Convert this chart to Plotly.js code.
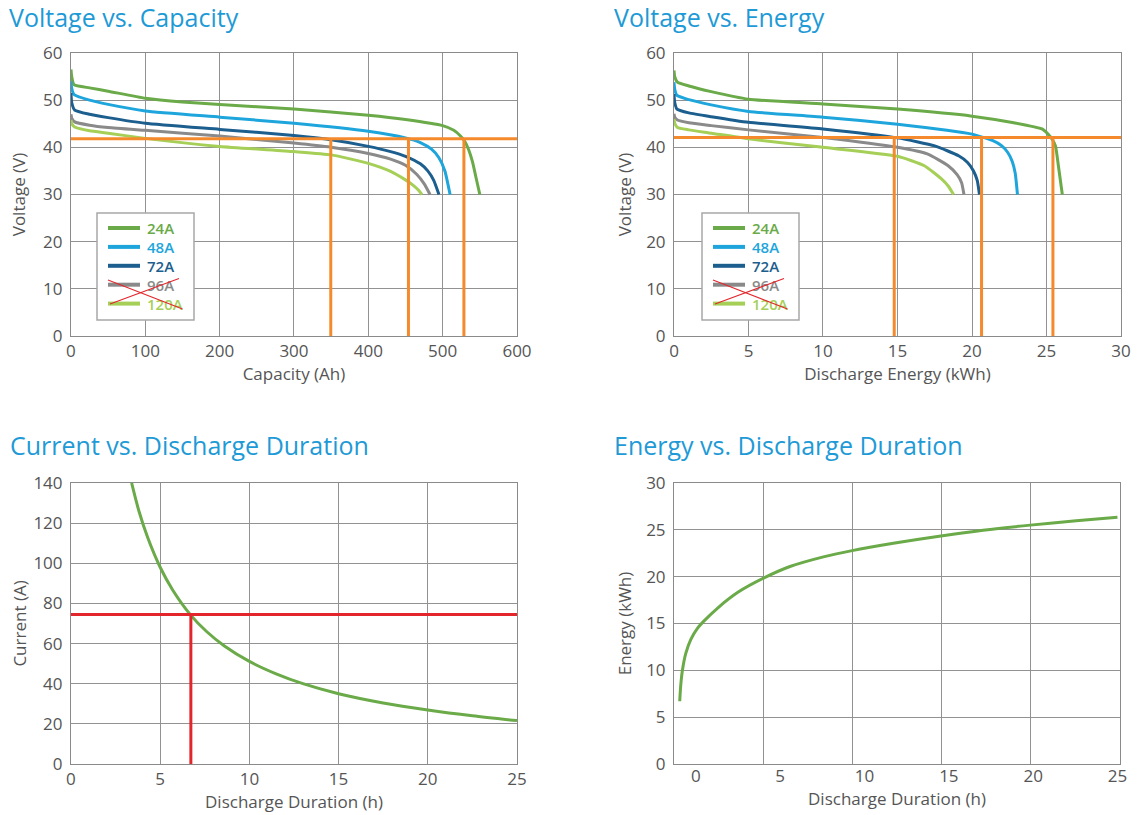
<!DOCTYPE html>
<html>
<head>
<meta charset="utf-8">
<script src="https://cdn.plot.ly/plotly-3.0.1.min.js"></script>
<style>html,body{margin:0;padding:0;background:#fff;}#chart{width:1141px;height:815px;}</style>
</head>
<body>
<div id="chart"></div>
<script>
// ---------- DATA ----------
const seriesNames = ['24A', '48A', '72A', '96A', '120A'];
const seriesColors = ['#6aaa48', '#1ea5dc', '#1c5e8e', '#8a8a8a', '#a5cf57'];
const crossedOut = ['96A', '120A'];

// Voltage vs. Capacity
const cap24 = [0, 1, 4, 25, 50, 100, 150, 200, 300, 400, 450, 500, 515, 524, 530, 535, 540, 545, 550];
const vCap24 = [56.5, 55, 53.3, 52.6, 51.9, 50.4, 49.6, 49.1, 48.1, 46.8, 45.9, 44.6, 43.6, 42.4, 41.2, 39.5, 37, 33.5, 30];
const cap48 = [0, 1, 4, 25, 50, 100, 200, 300, 400, 450, 470, 485, 495, 503, 510];
const vCap48 = [54, 52.5, 51.2, 50.0, 49.1, 47.7, 46.4, 45.1, 43.4, 42.0, 41.0, 39.6, 37.8, 35.0, 30];
const cap72 = [0, 1, 5, 25, 50, 100, 200, 300, 350, 400, 430, 450, 470, 480, 488, 495];
const vCap72 = [51.5, 49.5, 47.9, 47.0, 46.3, 45.1, 43.8, 42.5, 41.6, 40.2, 39.1, 38.1, 36.5, 35.0, 33.0, 30];
const cap96 = [0, 1, 5, 25, 50, 100, 200, 300, 350, 400, 430, 450, 465, 475, 483];
const vCap96 = [47, 46.2, 45.4, 44.7, 44.2, 43.6, 42.4, 40.9, 40.0, 38.7, 37.5, 36.2, 34.3, 32.3, 30];
const cap120 = [0, 1, 5, 25, 50, 100, 200, 300, 350, 400, 430, 450, 460, 467, 472];
const vCap120 = [45.8, 45.0, 44.3, 43.5, 43.0, 41.9, 40.2, 39.1, 38.4, 36.6, 34.9, 33.1, 32.0, 31.0, 30];
const capCutoffV = 41.8;
const capMarks = [349.5, 454, 528.6];

// Voltage vs. Energy
const en24 = [0, 0.05, 0.23, 1, 2.5, 5, 10, 15, 20, 22.8, 24.7, 25.1, 25.4, 25.6, 25.8, 26.06];
const vEn24 = [56.3, 55, 53.8, 53.0, 51.8, 50.2, 49.2, 48.1, 46.6, 45.2, 43.9, 42.8, 41.6, 40.3, 36, 30];
const en48 = [0, 0.05, 0.2, 1, 2.5, 5, 10, 15, 20, 21.4, 22.0, 22.4, 22.7, 22.9, 23.05];
const vEn48 = [53.8, 52.3, 51.0, 50.1, 49.0, 47.6, 46.4, 44.9, 42.8, 41.4, 40.3, 38.9, 37, 34.5, 30];
const en72 = [0, 0.05, 0.2, 1, 2.5, 5, 10, 15, 17.5, 19.1, 19.7, 20.1, 20.35, 20.5];
const vEn72 = [51.3, 49.5, 48.1, 47.3, 46.5, 45.3, 43.9, 42.0, 40.3, 38.2, 36.8, 35, 33, 30];
const en96 = [0, 0.05, 0.23, 1, 2.5, 5, 10, 15, 17.0, 18.4, 19.0, 19.3, 19.46];
const vEn96 = [47.1, 46.4, 45.8, 45.2, 44.6, 43.7, 42.1, 40.0, 38.6, 36.1, 34.2, 32.5, 30];
const en120 = [0, 0.05, 0.23, 1, 2.5, 5, 10, 15, 16.8, 17.95, 18.4, 18.76];
const vEn120 = [46.0, 45.1, 44.2, 43.7, 43.0, 41.8, 40.0, 38.1, 36.1, 33.3, 31.8, 30];
const enCutoffV = 42.1;
const enMarks = [14.78, 20.64, 25.43];

// Current vs. Discharge Duration
const durCurrent = [3.4, 3.8, 4.3, 5.0, 5.7, 6.7, 7.6, 8.6, 10.0, 11.5, 13.0, 15.0, 17.5, 20.0, 22.5, 25.0];
const current = [140, 126.3, 112.8, 98, 86.7, 74.3, 66, 58.8, 51.1, 44.9, 40, 35, 30.4, 26.9, 24, 21.6];
const markCurrent = 74.5;
const markDuration = 6.72;

// Energy vs. Discharge Duration
const durEnergy = [-0.96, -0.9, -0.8, -0.6, -0.3, 0.1, 0.5, 1.29, 2.51, 4.01, 5.58, 7.62, 9.26, 11.71, 14.53, 17.03, 19.83, 22.55, 25.0];
const energy = [6.7, 8.4, 10.0, 11.8, 13.3, 14.5, 15.3, 16.65, 18.35, 19.84, 21.08, 22.14, 22.78, 23.56, 24.34, 24.95, 25.5, 25.96, 26.35];

// ---------- STYLE ----------
const W = 1141, H = 815;
const FONT = 'Open Sans, Noto Sans, sans-serif';
const ORANGE = '#f58a2c';
const RED = '#e3262b';
const GREEN = '#6aaa48';
const TITLE_BLUE = '#1e9ad6';

const capX = [cap24, cap48, cap72, cap96, cap120];
const capY = [vCap24, vCap48, vCap72, vCap96, vCap120];
const enX = [en24, en48, en72, en96, en120];
const enY = [vEn24, vEn48, vEn72, vEn96, vEn120];

const traces = [];
seriesNames.forEach((n, i) => {
  traces.push({x: capX[i], y: capY[i], xaxis: 'x', yaxis: 'y', mode: 'lines', name: n, showlegend: false,
    line: {color: seriesColors[i], width: 3, shape: 'spline', smoothing: 0.5}, hoverinfo: 'skip'});
});
seriesNames.forEach((n, i) => {
  traces.push({x: enX[i], y: enY[i], xaxis: 'x2', yaxis: 'y2', mode: 'lines', name: n, showlegend: false,
    line: {color: seriesColors[i], width: 3, shape: 'spline', smoothing: 0.5}, hoverinfo: 'skip'});
});
// orange cutoff lines
traces.push({x: [0, 600], y: [capCutoffV, capCutoffV], xaxis: 'x', yaxis: 'y', mode: 'lines', showlegend: false,
  line: {color: ORANGE, width: 3}, hoverinfo: 'skip'});
capMarks.forEach(m => traces.push({x: [m, m], y: [0, capCutoffV], xaxis: 'x', yaxis: 'y', mode: 'lines', showlegend: false,
  line: {color: ORANGE, width: 3}, hoverinfo: 'skip'}));
traces.push({x: [0, 30], y: [enCutoffV, enCutoffV], xaxis: 'x2', yaxis: 'y2', mode: 'lines', showlegend: false,
  line: {color: ORANGE, width: 3}, hoverinfo: 'skip'});
enMarks.forEach(m => traces.push({x: [m, m], y: [0, enCutoffV], xaxis: 'x2', yaxis: 'y2', mode: 'lines', showlegend: false,
  line: {color: ORANGE, width: 3}, hoverinfo: 'skip'}));

// current chart
traces.push({x: durCurrent, y: current, xaxis: 'x3', yaxis: 'y3', mode: 'lines', showlegend: false,
  line: {color: GREEN, width: 3, shape: 'spline', smoothing: 0.8}, hoverinfo: 'skip'});
traces.push({x: [0, 25], y: [markCurrent, markCurrent], xaxis: 'x3', yaxis: 'y3', mode: 'lines', showlegend: false,
  line: {color: RED, width: 3}, hoverinfo: 'skip'});
traces.push({x: [markDuration, markDuration], y: [0, markCurrent], xaxis: 'x3', yaxis: 'y3', mode: 'lines', showlegend: false,
  line: {color: RED, width: 3}, hoverinfo: 'skip'});

// energy chart
traces.push({x: durEnergy, y: energy, xaxis: 'x4', yaxis: 'y4', mode: 'lines', showlegend: false,
  line: {color: GREEN, width: 3, shape: 'spline', smoothing: 0.8}, hoverinfo: 'skip'});
// grid axis carrier (empty)
traces.push({x: [], y: [], xaxis: 'x5', yaxis: 'y4', mode: 'lines', showlegend: false, hoverinfo: 'skip'});

function ax(extra) {
  return Object.assign({
    showgrid: true, gridcolor: '#929292', gridwidth: 1,
    showline: true, linecolor: '#8a8a8a', linewidth: 1, mirror: true,
    zeroline: false, ticks: '', automargin: false, fixedrange: true,
    tickfont: {family: FONT, size: 17, color: '#555555'}
  }, extra);
}
function xTitle(t, s) {
  return {text: t, standoff: s, font: {family: FONT, size: 17, color: '#555555'}};
}
function yTitle(t, s) {
  return {text: t, standoff: s, font: {family: FONT, size: 17, color: '#555555'}};
}

const yTop = [0.5877, 0.9350];
const yBot = [0.0626, 0.4074];
const xL = [0.0622, 0.4531];
const xR = [0.5907, 0.9825];

const px = v => v / W;
const py = v => 1 - v / H;

function titleAnn(text, xpx, ypx) {
  return {text: text, xref: 'paper', yref: 'paper', x: px(xpx), y: py(ypx),
    xanchor: 'left', yanchor: 'middle', showarrow: false,
    font: {family: FONT, size: 25, color: TITLE_BLUE}};
}

// manual legend boxes (legend box, samples, labels, red cross over the struck-out entries)
const shapes = [];
const annotations = [
  titleAnn('Voltage vs. Capacity', 7, 17),
  titleAnn('Voltage vs. Energy', 612, 17),
  titleAnn('Current vs. Discharge Duration', 8, 445),
  titleAnn('Energy vs. Discharge Duration', 612, 445)
];
function buildLegend(left) {
  const top = 213, bottom = 320, width = 97;
  shapes.push({type: 'rect', xref: 'paper', yref: 'paper', x0: px(left), x1: px(left + width), y0: py(bottom), y1: py(top),
    line: {color: '#a8a8a8', width: 1.5}, fillcolor: '#ffffff', layer: 'above'});
  seriesNames.forEach((n, i) => {
    const yy = 228 + i * 18.9;
    shapes.push({type: 'line', xref: 'paper', yref: 'paper', x0: px(left + 11), x1: px(left + 43), y0: py(yy), y1: py(yy),
      line: {color: seriesColors[i], width: 4}, layer: 'above'});
    annotations.push({text: n, xref: 'paper', yref: 'paper', x: px(left + 48), y: py(yy), xanchor: 'left', yanchor: 'middle',
      showarrow: false, font: {family: FONT, size: 15, weight: 600, color: seriesColors[i]}});
  });
  // red cross over the crossed-out entries
  const crosses = [[left + 9.5, 279.5, left + 85.5, 309], [left + 11.5, 304.5, left + 82, 278.5]];
  crosses.forEach(c => {
    annotations.push({text: '', xref: 'paper', yref: 'paper', x: px(c[2]), y: py(c[3]),
      ax: c[0] - c[2], ay: c[1] - c[3], axref: 'pixel', ayref: 'pixel',
      showarrow: true, arrowhead: 0, arrowwidth: 1.1, arrowcolor: RED, standoff: 0, startstandoff: 0});
  });
}
buildLegend(97);
buildLegend(702);

const layout = {
  width: W, height: H,
  margin: {l: 0, r: 0, t: 0, b: 0},
  paper_bgcolor: '#ffffff', plot_bgcolor: '#ffffff',
  showlegend: false,
  xaxis: ax({domain: xL, anchor: 'y', range: [0, 600], dtick: 100, title: xTitle('Capacity (Ah)', 5)}),
  yaxis: ax({domain: yTop, anchor: 'x', range: [0, 60], dtick: 10, ticklabelstandoff: 4, title: yTitle('Voltage (V)', 13)}),
  xaxis2: ax({domain: xR, anchor: 'y2', range: [0, 30], dtick: 5, title: xTitle('Discharge Energy (kWh)', 5)}),
  yaxis2: ax({domain: yTop, anchor: 'x2', range: [0, 60], dtick: 10, ticklabelstandoff: 4, title: yTitle('Voltage (V)', 10)}),
  xaxis3: ax({domain: xL, anchor: 'y3', range: [0, 25], dtick: 5, title: xTitle('Discharge Duration (h)', 5)}),
  yaxis3: ax({domain: yBot, anchor: 'x3', range: [0, 140], dtick: 20, ticklabelstandoff: 4, title: yTitle('Current (A)', 2)}),
  xaxis4: ax({domain: [0.5907, 0.9816], anchor: 'y4', range: [-1.3, 25.15], tick0: 0, dtick: 5,
    showgrid: false, showline: false, title: xTitle('Discharge Duration (h)', 7)}),
  xaxis5: ax({domain: [0.5907, 0.9816], anchor: 'y4', overlaying: 'x4', range: [0, 25], dtick: 5,
    showticklabels: false}),
  yaxis4: ax({domain: yBot, anchor: 'x4', range: [0, 30], dtick: 5, ticklabelstandoff: 4, title: yTitle('Energy (kWh)', 10)}),
  annotations: annotations,
  shapes: shapes
};

Plotly.newPlot('chart', traces, layout, {displayModeBar: false, staticPlot: true});
</script>
</body>
</html>
